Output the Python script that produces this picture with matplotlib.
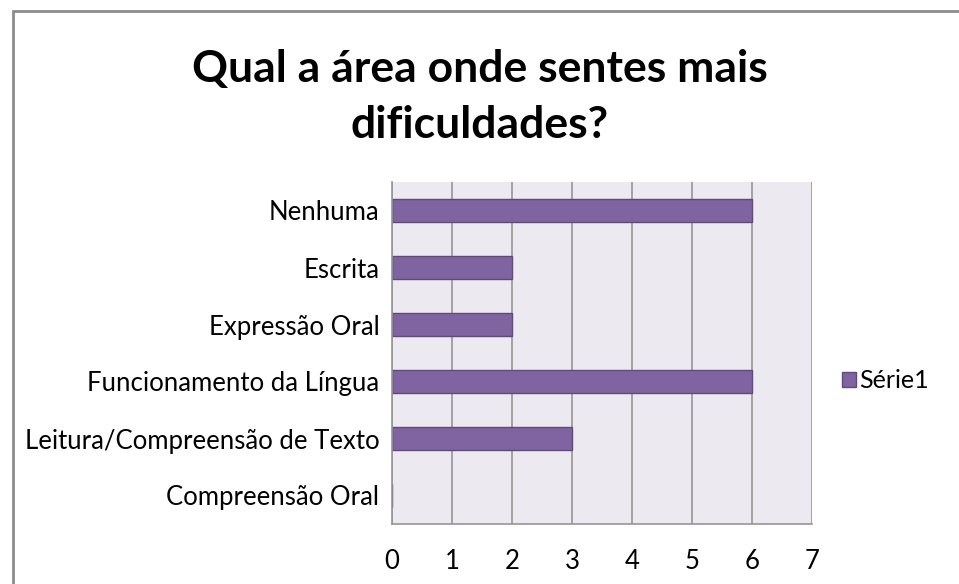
import matplotlib.pyplot as plt
from matplotlib.patches import Rectangle

categories = ["Nenhuma", "Escrita", "Expressão Oral", "Funcionamento da Língua",
              "Leitura/Compreensão de Texto", "Compreensão Oral"]
values = [6, 2, 2, 6, 3, 0]
series_name = "Série1"
title = "Qual a área onde sentes mais\ndificuldades?"

plt.rcParams['font.family'] = ['Lato', 'DejaVu Sans']

fig = plt.figure(figsize=(9.59, 5.84), dpi=100)
# outer chart border
fig.patches.append(Rectangle((13 / 959, -0.1), 1.2, 1 - 11 / 584 + 0.1,
                             transform=fig.transFigure, fill=False,
                             edgecolor="#8c8c8c", linewidth=2))

ax = fig.add_axes([392 / 959, 1 - 524 / 584, 420 / 959, 342 / 584])
ax.set_facecolor("#eceaf0")

ypos = list(range(len(categories)))
ax.barh(ypos, values, height=0.4, color="#8064a2", edgecolor="#5f4b7a",
        linewidth=1, label=series_name, zorder=3)
ax.set_yticks(ypos)
ax.set_yticklabels(categories, fontsize=18.5)
ax.set_ylim(len(categories) - 0.5, -0.5)
ax.set_xlim(0, 7)
ax.set_xticks(range(8))
ax.tick_params(axis="x", labelsize=18.5, length=0, pad=18)
ax.tick_params(axis="y", length=0, pad=9)
ax.grid(axis="x", color="#969696", linewidth=1.2, zorder=1)
for s in ["top", "right"]:
    ax.spines[s].set_visible(False)
for s in ["left", "bottom"]:
    ax.spines[s].set_color("#969696")
    ax.spines[s].set_linewidth(1.2)
    ax.spines[s].set_zorder(4)

fig.text(0.5, 1 - 97 / 584, title, ha="center", va="center",
         fontsize=32, fontweight="bold", linespacing=1.5)

ax.legend(loc="center left", bbox_to_anchor=(842 / 959, 1 - 381 / 584),
          bbox_transform=fig.transFigure, frameon=False, fontsize=18,
          handlelength=0.55, handleheight=0.55, handletextpad=0.15,
          borderaxespad=0, borderpad=0)

fig.savefig("out.png", dpi=100)
